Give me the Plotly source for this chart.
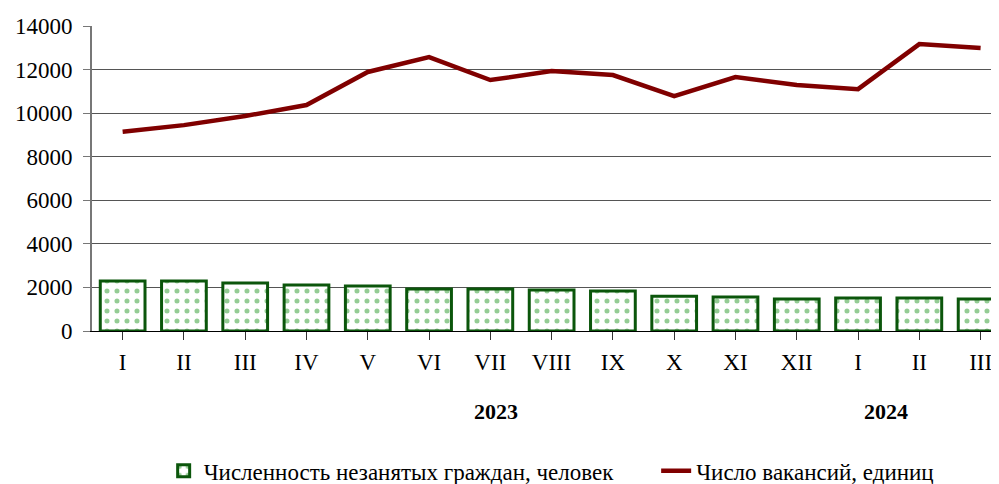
import plotly.graph_objects as go

months = ["I", "II", "III", "IV", "V", "VI", "VII", "VIII", "IX", "X", "XI", "XII", "I", "II", "III"]
unemployed = [2290, 2290, 2200, 2110, 2065, 1930, 1930, 1880, 1835, 1600, 1560, 1470, 1515, 1515, 1470]
vacancies = [9150, 9450, 9870, 10370, 11890, 12575, 11520, 11930, 11750, 10785, 11660, 11290, 11100, 13170, 12990]
years = ["2023", "2024"]
year_pos = [6.1, 12.45]
name_bar = "Численность незанятых граждан, человек"
name_line = "Число вакансий, единиц"

x = list(range(len(months)))
font = "Liberation Serif, Times New Roman, serif"

fig = go.Figure()
fig.add_trace(go.Bar(
    x=x, y=unemployed, name=name_bar, width=0.73, legend="legend",
    marker=dict(color="white", line=dict(color="#0b560b", width=3),
                pattern=dict(shape=".", fgcolor="#2a9a2a", bgcolor="white", size=10, solidity=0.2)),
))
fig.add_trace(go.Scatter(
    x=x, y=vacancies, name=name_line, mode="lines", legend="legend2",
    line=dict(color="#800000", width=4.5),
))

for yr, p in zip(years, year_pos):
    fig.add_annotation(x=p, xref="x", y=-0.264, yref="paper", yanchor="middle",
                       text="<b>" + yr + "</b>",
                       showarrow=False, font=dict(family=font, size=22, color="black"))

leg_common = dict(orientation="h", xanchor="left", y=-0.388, yanchor="top",
                  font=dict(family=font, size=23), bgcolor="rgba(0,0,0,0)")

fig.update_layout(
    width=991, height=476,
    margin=dict(l=84, r=0, t=18, b=153, autoexpand=False),
    paper_bgcolor="white", plot_bgcolor="white",
    font=dict(family=font, size=23, color="black"),
    showlegend=True,
    legend=dict(x=0.079, **leg_common),
    legend2=dict(x=0.622, **leg_common),
    bargap=0.27,
)
fig.update_xaxes(
    range=[-0.5, 14.3], tickmode="array", tickvals=x, ticktext=months,
    tickson="boundaries", ticks="outside", ticklen=8, tickcolor="#333",
    showline=True, linecolor="black", linewidth=1, showgrid=False,
    tickfont=dict(family=font, size=23), automargin=False, ticklabelstandoff=2,
)
fig.update_yaxes(
    range=[0, 14000], dtick=2000, tickformat="d", ticks="outside", ticklen=7, tickcolor="#777",
    showline=True, linecolor="#777", linewidth=2, showgrid=True, gridcolor="#555", gridwidth=1,
    tickfont=dict(family=font, size=23), zeroline=False, automargin=False, ticklabelstandoff=6,
)
fig.write_html("out.html")
